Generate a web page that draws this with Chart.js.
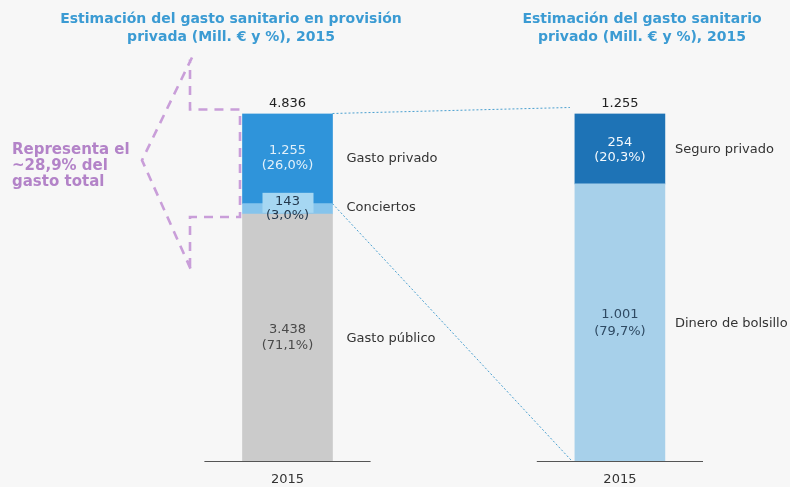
<!DOCTYPE html>
<html>
<head>
<meta charset="utf-8">
<script src="https://cdn.jsdelivr.net/npm/chart.js@4"></script>
<style>
html,body{margin:0;padding:0;background:#f7f7f7;}
#wrap{position:relative;width:790px;height:487px;}
</style>
</head>
<body>
<div id="wrap"><canvas id="c"></canvas></div>
<script>
// ---- data ----
const categories = ['2015', '', '2015'];
const gastoPublico   = [3438, null, null];
const conciertos     = [143, null, null];
const gastoPrivado   = [1255, null, null];
const dineroBolsillo = [null, null, 1001];
const seguroPrivado  = [null, null, 254];
const totals         = [4836, null, 1255];
const pctPublico = '71,1%', pctConciertos = '3,0%', pctPrivado = '26,0%';
const pctBolsillo = '79,7%', pctSeguro = '20,3%';
const seriesNames = ['Gasto público', 'Conciertos', 'Gasto privado', 'Dinero de bolsillo', 'Seguro privado'];
const titleLeft = ['Estimación del gasto sanitario en provisión', 'privada (Mill. € y %), 2015'];
const titleRight = ['Estimación del gasto sanitario', 'privado (Mill. € y %), 2015'];
const noteLines = ['Representa el', '~28,9% del', 'gasto total'];

function fmt(n){ return String(n).replace(/\B(?=(\d{3})+(?!\d))/g, '.'); }

const FONT = '"DejaVu Sans", Verdana, sans-serif';

const overlay = {
  id: 'overlay',
  beforeDraw(chart){
    const ctx = chart.ctx;
    ctx.save();
    ctx.fillStyle = '#f7f7f7';
    ctx.fillRect(0, 0, chart.width, chart.height);
    ctx.restore();
  },
  afterDatasetsDraw(chart){
    const ctx = chart.ctx;
    const xs = chart.scales.x;
    const area = chart.chartArea;
    const el = (d, i) => chart.getDatasetMeta(d).data[i];
    const pub = el(0,0), con = el(1,0), pri = el(2,0), bol = el(3,2), seg = el(4,2);
    const L = { left: pub.x - pub.width/2, right: pub.x + pub.width/2, cx: pub.x };
    const R = { left: bol.x - bol.width/2, right: bol.x + bol.width/2, cx: bol.x };
    ctx.save();

    // axis segments
    const half = xs.width / categories.length / 2;
    ctx.strokeStyle = '#555';
    ctx.lineWidth = 1;
    [0, 2].forEach(i => {
      const cx = xs.getPixelForValue(i);
      ctx.beginPath();
      ctx.moveTo(cx - half, area.bottom + 0.5);
      ctx.lineTo(cx + half, area.bottom + 0.5);
      ctx.stroke();
    });

    // blue dotted connectors
    ctx.strokeStyle = '#4aa0d0';
    ctx.lineWidth = 1;
    ctx.setLineDash([2, 2]);
    ctx.beginPath();
    ctx.moveTo(L.right, pri.y);
    ctx.lineTo(R.left - 5, seg.y - 6);
    ctx.moveTo(L.right, con.y);
    ctx.lineTo(R.left - 3, bol.base);
    ctx.stroke();
    ctx.setLineDash([]);

    // label box for conciertos
    const conMid = (con.y + con.base) / 2;
    ctx.fillStyle = '#a6d7f2';
    ctx.fillRect(L.cx - 25, conMid - 16, 51, 20);

    ctx.textAlign = 'center';
    ctx.textBaseline = 'middle';
    ctx.font = '13px ' + FONT;
    const two = (a, b, x, yc, col, gap) => {
      ctx.fillStyle = col;
      ctx.fillText(a, x, yc - gap/2);
      ctx.fillText(b, x, yc + gap/2);
    };
    // totals
    ctx.fillStyle = '#222';
    ctx.fillText(fmt(totals[0]), L.cx, pri.y - 10);
    ctx.fillText(fmt(totals[2]), R.cx, seg.y - 10);
    // segment labels
    two(fmt(gastoPrivado[0]), '(' + pctPrivado + ')', L.cx, (pri.y + pri.base)/2, 'rgba(235,245,252,0.95)', 15);
    two(fmt(conciertos[0]), '(' + pctConciertos + ')', L.cx, conMid - 0.5, '#23384d', 14);
    two(fmt(gastoPublico[0]), '(' + pctPublico + ')', L.cx, (pub.y + pub.base)/2, '#4a4a4a', 16);
    two(fmt(seguroPrivado[2]), '(' + pctSeguro + ')', R.cx, (seg.y + seg.base)/2 + 1, '#f4f9fd', 15);
    two(fmt(dineroBolsillo[2]), '(' + pctBolsillo + ')', R.cx, (bol.y + bol.base)/2 + 1, '#2f4a63', 17);

    // side labels
    ctx.textAlign = 'left';
    ctx.fillStyle = '#333';
    ctx.fillText(seriesNames[2], L.right + 14, (pri.y + pri.base)/2);
    ctx.fillText(seriesNames[1], L.right + 14, conMid - 1);
    ctx.fillText(seriesNames[0], L.right + 14, (pub.y + pub.base)/2 + 1);
    ctx.fillText(seriesNames[4], R.right + 10, (seg.y + seg.base)/2 + 1);
    ctx.fillText(seriesNames[3], R.right + 10, (bol.y + bol.base)/2 + 1);

    // titles
    ctx.textAlign = 'center';
    ctx.font = 'bold 14px ' + FONT;
    ctx.fillStyle = '#3b9bd3';
    ctx.fillText(titleLeft[0], 231, 19);
    ctx.fillText(titleLeft[1], 231, 37);
    ctx.fillText(titleRight[0], 642, 19);
    ctx.fillText(titleRight[1], 642, 37);

    // pink arrow
    const nTop = pri.y - 4, nBot = pub.y + 3;
    const nX = L.left - 2.5, bX = nX - 50, tipX = nX - 98, tipY = (nTop + nBot)/2 - 3;
    ctx.strokeStyle = '#c99ed9';
    ctx.lineWidth = 2.6;
    ctx.setLineDash([9, 7]);
    ctx.beginPath();
    ctx.moveTo(bX + 2, nTop - 52);
    ctx.lineTo(tipX, tipY);
    ctx.lineTo(bX + 2, nBot + 55);
    ctx.moveTo(bX, nBot + 50);
    ctx.lineTo(bX, nBot);
    ctx.lineTo(nX, nBot);
    ctx.lineTo(nX, nTop);
    ctx.lineTo(bX, nTop);
    ctx.lineTo(bX, nTop - 50);
    ctx.stroke();
    ctx.setLineDash([]);

    // pink note
    ctx.textAlign = 'left';
    ctx.font = 'bold 15px ' + FONT;
    ctx.fillStyle = '#b383c8';
    ctx.fillText(noteLines[0], 12, 150);
    ctx.fillText(noteLines[1], 12, 166);
    ctx.fillText(noteLines[2], 12, 182);
    ctx.restore();
  }
};

const ds = (label, data, axis, color) => ({
  label, data, yAxisID: axis, stack: 'all',
  backgroundColor: color, borderWidth: 0, barThickness: 90
});

new Chart(document.getElementById('c'), {
  type: 'bar',
  data: {
    labels: categories,
    datasets: [
      ds(seriesNames[0], gastoPublico, 'y', '#cbcbcb'),
      ds(seriesNames[1], conciertos, 'y', '#86c4ec'),
      ds(seriesNames[2], gastoPrivado, 'y', '#2f94da'),
      ds(seriesNames[3], dineroBolsillo, 'y2', '#a7d0ea'),
      ds(seriesNames[4], seguroPrivado, 'y2', '#1e73b6')
    ]
  },
  options: {
    responsive: true,
    maintainAspectRatio: false,
    animation: false,
    layout: { padding: { left: 204.4, right: 87, top: 113.5, bottom: 1 } },
    plugins: { legend: { display: false }, tooltip: { enabled: false } },
    scales: {
      x: {
        stacked: true,
        grid: { display: false, drawTicks: false },
        border: { display: false },
        ticks: { color: '#333', font: { family: FONT, size: 13 }, padding: 10.5, maxRotation: 0 },
        afterFit(scale){ scale.height = 25; }
      },
      y: { display: false, stacked: true, min: 0, max: totals[0] },
      y2: { display: false, stacked: true, min: 0, max: totals[2] }
    }
  },
  plugins: [overlay]
});
</script>
</body>
</html>
